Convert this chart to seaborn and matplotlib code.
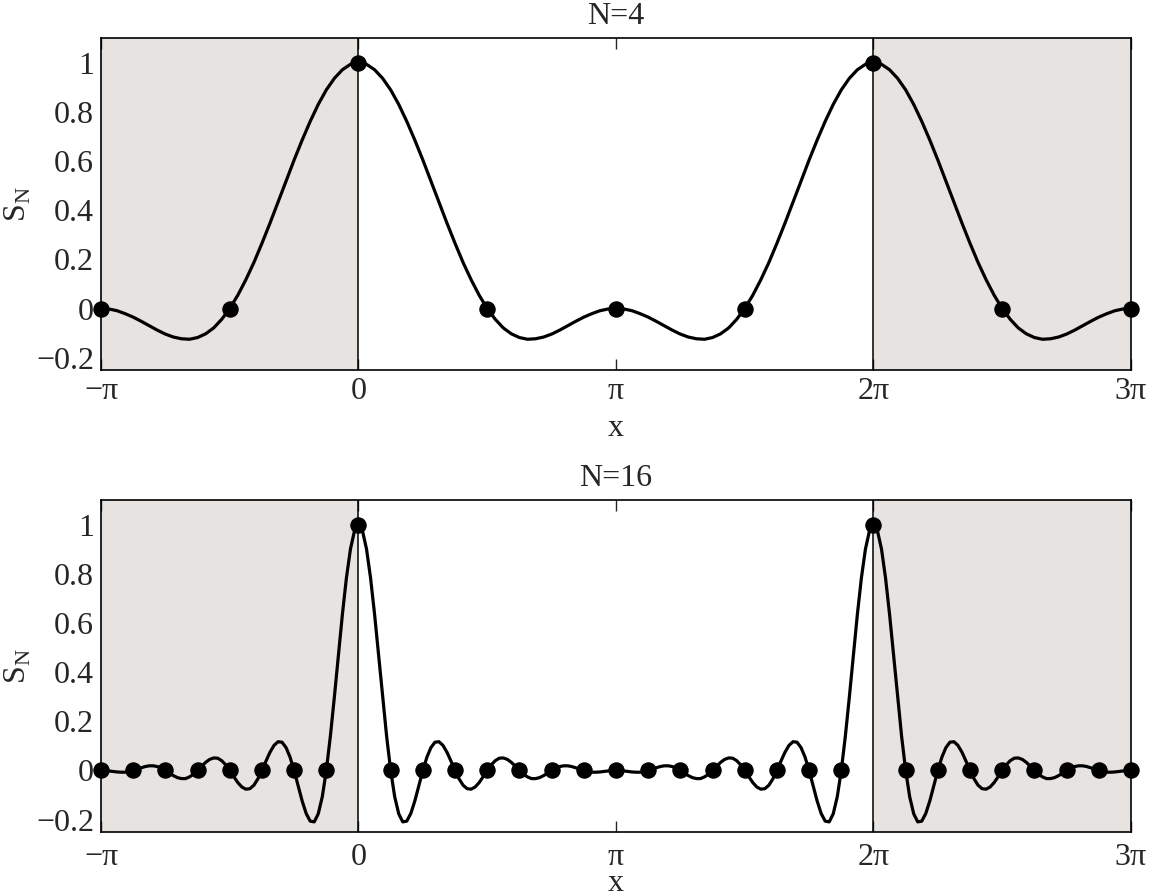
import numpy as np
import matplotlib
matplotlib.use("Agg")
import matplotlib.pyplot as plt
import seaborn as sns

# S_N, x from -pi to 3pi
# N=4: step pi/32, N=16: step pi/64
s_n4 = [
    0.0,
    -0.002, -0.009, -0.021, -0.035, -0.052, -0.070, -0.088, -0.104,
    -0.116, -0.123, -0.125, -0.118, -0.103, -0.079, -0.044, 0.0,
    0.054, 0.117, 0.187, 0.265, 0.347, 0.432, 0.518, 0.604,
    0.685, 0.761, 0.830, 0.889, 0.936, 0.971, 0.993, 1.0,
    0.993, 0.971, 0.936, 0.889, 0.830, 0.761, 0.685, 0.604,
    0.518, 0.432, 0.347, 0.265, 0.187, 0.117, 0.054, 0.0,
    -0.044, -0.079, -0.103, -0.118, -0.125, -0.123, -0.116, -0.104,
    -0.088, -0.070, -0.052, -0.035, -0.021, -0.009, -0.002, 0.0,
    -0.002, -0.009, -0.021, -0.035, -0.052, -0.070, -0.088, -0.104,
    -0.116, -0.123, -0.125, -0.118, -0.103, -0.079, -0.044, 0.0,
    0.054, 0.117, 0.187, 0.265, 0.347, 0.432, 0.518, 0.604,
    0.685, 0.761, 0.830, 0.889, 0.936, 0.971, 0.993, 1.0,
    0.993, 0.971, 0.936, 0.889, 0.830, 0.761, 0.685, 0.604,
    0.518, 0.432, 0.347, 0.265, 0.187, 0.117, 0.054, 0.0,
    -0.044, -0.079, -0.103, -0.118, -0.125, -0.123, -0.116, -0.104,
    -0.088, -0.070, -0.052, -0.035, -0.021, -0.009, -0.002, 0.0,
]

s_n16 = [
    0.0,
    -0.001, -0.002, -0.004, -0.006, -0.007, -0.007, -0.004, 0.0,
    0.005, 0.011, 0.016, 0.019, 0.019, 0.016, 0.009, 0.0,
    -0.011, -0.021, -0.029, -0.033, -0.033, -0.026, -0.015, 0.0,
    0.017, 0.033, 0.045, 0.051, 0.050, 0.040, 0.023, 0.0,
    -0.025, -0.049, -0.067, -0.076, -0.074, -0.060, -0.034, 0.0,
    0.038, 0.074, 0.102, 0.117, 0.115, 0.093, 0.054, 0.0,
    -0.062, -0.124, -0.175, -0.206, -0.209, -0.176, -0.107, 0.0,
    0.138, 0.298, 0.468, 0.635, 0.783, 0.900, 0.974, 1.0,
    0.974, 0.900, 0.783, 0.635, 0.468, 0.298, 0.138, 0.0,
    -0.107, -0.176, -0.209, -0.206, -0.175, -0.124, -0.062, 0.0,
    0.054, 0.093, 0.115, 0.117, 0.102, 0.074, 0.038, 0.0,
    -0.034, -0.060, -0.074, -0.076, -0.067, -0.049, -0.025, 0.0,
    0.023, 0.040, 0.050, 0.051, 0.045, 0.033, 0.017, 0.0,
    -0.015, -0.026, -0.033, -0.033, -0.029, -0.021, -0.011, 0.0,
    0.009, 0.016, 0.019, 0.019, 0.016, 0.011, 0.005, 0.0,
    -0.004, -0.007, -0.007, -0.006, -0.004, -0.002, -0.001, 0.0,
    -0.001, -0.002, -0.004, -0.006, -0.007, -0.007, -0.004, 0.0,
    0.005, 0.011, 0.016, 0.019, 0.019, 0.016, 0.009, 0.0,
    -0.011, -0.021, -0.029, -0.033, -0.033, -0.026, -0.015, 0.0,
    0.017, 0.033, 0.045, 0.051, 0.050, 0.040, 0.023, 0.0,
    -0.025, -0.049, -0.067, -0.076, -0.074, -0.060, -0.034, 0.0,
    0.038, 0.074, 0.102, 0.117, 0.115, 0.093, 0.054, 0.0,
    -0.062, -0.124, -0.175, -0.206, -0.209, -0.176, -0.107, 0.0,
    0.138, 0.298, 0.468, 0.635, 0.783, 0.900, 0.974, 1.0,
    0.974, 0.900, 0.783, 0.635, 0.468, 0.298, 0.138, 0.0,
    -0.107, -0.176, -0.209, -0.206, -0.175, -0.124, -0.062, 0.0,
    0.054, 0.093, 0.115, 0.117, 0.102, 0.074, 0.038, 0.0,
    -0.034, -0.060, -0.074, -0.076, -0.067, -0.049, -0.025, 0.0,
    0.023, 0.040, 0.050, 0.051, 0.045, 0.033, 0.017, 0.0,
    -0.015, -0.026, -0.033, -0.033, -0.029, -0.021, -0.011, 0.0,
    0.009, 0.016, 0.019, 0.019, 0.016, 0.011, 0.005, 0.0,
    -0.004, -0.007, -0.007, -0.006, -0.004, -0.002, -0.001, 0.0,
]

titles = ["N=4", "N=16"]
series = [s_n4, s_n16]
dot_every = [16, 8]   # dots at multiples of 2*pi/N

x_ticks = [-np.pi, 0, np.pi, 2 * np.pi, 3 * np.pi]
x_labels = ["\u2212\u03c0", "0", "\u03c0", "2\u03c0", "3\u03c0"]
y_ticks = [-0.2, 0, 0.2, 0.4, 0.6, 0.8, 1]
y_labels = ["\u22120.2", "0", "0.2", "0.4", "0.6", "0.8", "1"]

sns.set_style("ticks")
plt.rcParams["font.family"] = ["Liberation Serif", "DejaVu Serif"]
plt.rcParams["mathtext.fontset"] = "custom"
plt.rcParams["mathtext.rm"] = "Liberation Serif"
plt.rcParams["axes.linewidth"] = 1.2

fig = plt.figure(figsize=(11.49, 8.92), dpi=100)
axes = [fig.add_axes([0.0879, 0.5852, 0.8964, 0.3722]),
        fig.add_axes([0.0879, 0.0673, 0.8964, 0.3722])]
tick_pads = [5, 8]
xlabel_pads = [6, -2]

fs = 23
shade = "#e6e3e1"
for ax, title, s, step, tpad, lpad in zip(axes, titles, series, dot_every,
                                          tick_pads, xlabel_pads):
    s = np.array(s)
    x = np.linspace(-np.pi, 3 * np.pi, len(s))
    ax.axvspan(-np.pi, 0, color=shade, lw=0, zorder=0)
    ax.axvspan(2 * np.pi, 3 * np.pi, color=shade, lw=0, zorder=0)
    ax.axvline(0, color="black", lw=1.1, zorder=1)
    ax.axvline(2 * np.pi, color="black", lw=1.1, zorder=1)
    sns.lineplot(x=x, y=s, color="black", lw=2.3, ax=ax, zorder=3)
    sns.scatterplot(x=x[::step], y=s[::step], color="black", edgecolor="black",
                    s=120, ax=ax, zorder=5, clip_on=False)
    ax.set_xlim(-np.pi, 3 * np.pi)
    ax.set_ylim(-0.25, 1.1)
    ax.set_xticks(x_ticks)
    ax.set_xticklabels(x_labels)
    ax.set_yticks(y_ticks)
    ax.set_yticklabels(y_labels)
    ax.tick_params(axis="x", direction="in", top=True, length=8, width=1,
                   labelsize=fs, pad=tpad)
    ax.tick_params(axis="y", length=0, labelsize=fs, pad=5)
    ax.set_xlabel("x", fontsize=fs, labelpad=lpad)
    ax.set_ylabel(r"S$_\mathrm{N}$", fontsize=fs, labelpad=2)
    ax.set_title(title, fontsize=fs, pad=10)
    for sp in ax.spines.values():
        sp.set_color("black")
        sp.set_zorder(6)

fig.savefig("out.png", dpi=100)
